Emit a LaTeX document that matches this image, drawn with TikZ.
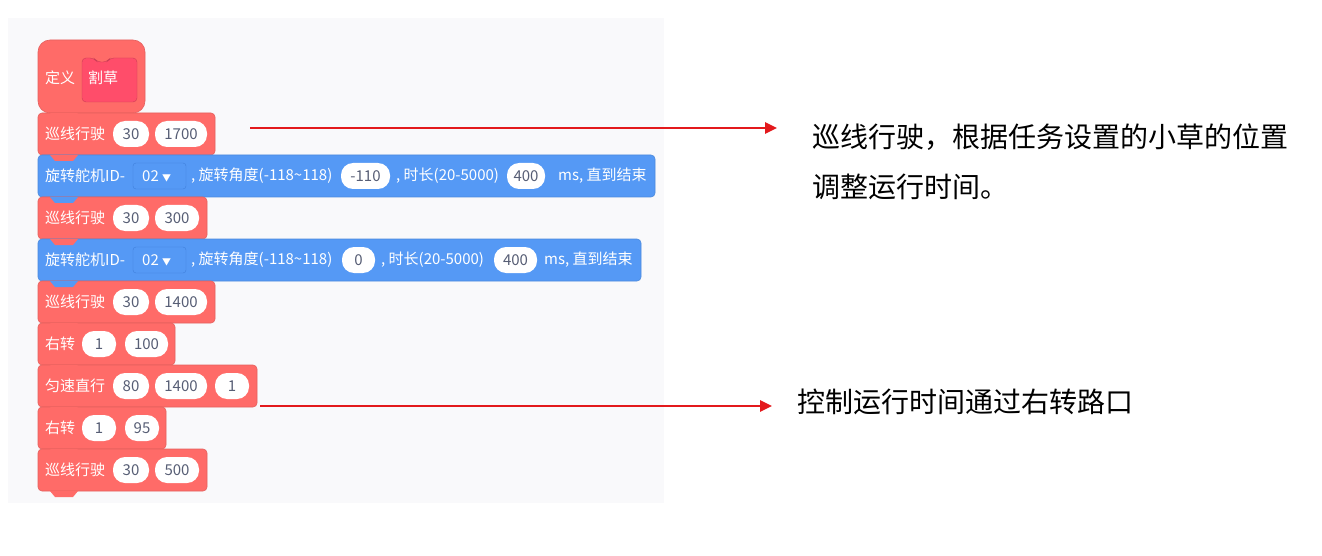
\documentclass[tikz,border=0pt]{standalone}
\usepackage{fontspec}
\setmainfont{Noto Sans CJK SC}
\usetikzlibrary{arrows.meta}
\definecolor{rb}{HTML}{FF6B68}
\definecolor{bb}{HTML}{5599F5}
\definecolor{bbd}{HTML}{3F80DC}
\definecolor{hat}{HTML}{FF4D6A}
\definecolor{bg}{HTML}{F9F9FB}
\definecolor{pt}{HTML}{575E75}
\definecolor{ar}{HTML}{E3191C}
\tikzset{
 blk/.style={rounded corners=4pt,draw=#1!90!black,fill=#1,line width=0.6pt},
 lab/.style={anchor=west,text=white,inner sep=0pt,font=\fontsize{15}{17}\selectfont},
 pill/.style={draw=none,fill=white,rounded corners=12pt,minimum height=26pt,inner sep=0pt,text=pt,font=\fontsize{15}{17}\selectfont},
 note/.style={anchor=west,inner sep=0pt,font=\fontsize{28}{32}\selectfont,text=black},
 arr/.style={draw=ar,line width=2.5pt,-{Triangle[length=12pt,width=11pt]}}
}
\newcommand{\tab}[2]{\fill[#2] (50,#1) -- (55,#1+6) -- (73,#1+6) -- (78,#1) -- cycle;}
\begin{document}
\begin{tikzpicture}[x=1pt,y=-1pt]
\useasboundingbox (0,0) rectangle (1322,556);
\fill[bg] (8,18) rectangle (664,503);
% hat
\path[blk=rb,rounded corners=12pt] (38,113) -- (38,40) -- (145,40) -- (145,113) -- cycle;
\draw[blk=rb] (38,113) rectangle (215,155);
\draw[fill=hat,draw=hat!80!black,rounded corners=4pt] (82,58) -- (94,58) -- (97,62) -- (107,62) -- (110,58) -- (137,58) -- (137,102) -- (82,102) -- cycle;
\node[lab] (def) at (45,78) {定义};
\node[lab] (ge) at (88,78) {割草};
% rows
\draw[blk=bb] (38,155) rectangle (655,197);
\tab{155}{rb}
\draw[blk=rb] (38,197) rectangle (207,239);
\tab{197}{bb}
\draw[blk=bb] (38,239) rectangle (641,281);
\tab{239}{rb}
\draw[blk=rb] (38,281) rectangle (215,323);
\tab{281}{bb}
\draw[blk=rb] (38,323) rectangle (175,365);
\tab{323}{rb}
\draw[blk=rb] (38,365) rectangle (257,407);
\tab{365}{rb}
\draw[blk=rb] (38,407) rectangle (166,449);
\tab{407}{rb}
\draw[blk=rb] (38,449) rectangle (207,491);
\tab{449}{rb}
\fill[rb] (50,491) -- (55,497) -- (73,497) -- (78,491) -- cycle;
\tab{113}{rb}
% row 1
\node[lab] (r1) at (45,134) {巡线行驶};
\node[pill,minimum width=36pt] (p1a) at (131,134) {30};
\node[pill,minimum width=52pt] (p1b) at (181,134) {1700};
% blue 1
\node[lab] (b1a) at (45,176) {旋转舵机ID-};
\draw[bbd,rounded corners=3pt] (133,163) rectangle (186,189);
\node[lab] (dd1) at (142,176) {02 \fontsize{9}{9}\selectfont▼};
\node[lab] (b1b) at (191,176) {, 旋转角度(-118\textasciitilde118)};
\node[pill,minimum width=49pt] (b1p) at (365.5,176) {-110};
\node[lab] (b1c) at (396,176) {, 时长(20-5000)};
\node[pill,minimum width=38pt] (b1q) at (526,176) {400};
\node[lab] (b1d) at (558,176) {ms, 直到结束};
% row 3
\node[lab] (r3) at (45,218) {巡线行驶};
\node[pill,minimum width=36pt] (p3a) at (131,218) {30};
\node[pill,minimum width=44pt] (p3b) at (177,218) {300};
% blue 2
\node[lab] (b2a) at (45,260) {旋转舵机ID-};
\draw[bbd,rounded corners=3pt] (133,247) rectangle (186,273);
\node[lab] (dd2) at (142,260) {02 \fontsize{9}{9}\selectfont▼};
\node[lab] (b2b) at (191,260) {, 旋转角度(-118\textasciitilde118)};
\node[pill,minimum width=33pt] (b2p) at (358.5,260) {0};
\node[lab] (b2c) at (381,260) {, 时长(20-5000)};
\node[pill,minimum width=43pt] (b2q) at (515.5,260) {400};
\node[lab] (b2d) at (544,260) {ms, 直到结束};
% row 5
\node[lab] (r5) at (45,302) {巡线行驶};
\node[pill,minimum width=36pt] (p5a) at (131,302) {30};
\node[pill,minimum width=52pt] (p5b) at (181,302) {1400};
% row 6
\node[lab] (r6) at (45,344) {右转};
\node[pill,minimum width=34pt] (p6a) at (99,344) {1};
\node[pill,minimum width=43pt] (p6b) at (146.5,344) {100};
% row 7
\node[lab] (r7) at (45,386) {匀速直行};
\node[pill,minimum width=36pt] (p7a) at (131,386) {80};
\node[pill,minimum width=52pt] (p7b) at (181,386) {1400};
\node[pill,minimum width=34pt] (p7c) at (232,386) {1};
% row 8
\node[lab] (r8) at (45,428) {右转};
\node[pill,minimum width=34pt] (p8a) at (99,428) {1};
\node[pill,minimum width=34pt] (p8b) at (142,428) {95};
% row 9
\node[lab] (r9) at (45,470) {巡线行驶};
\node[pill,minimum width=36pt] (p9a) at (131,470) {30};
\node[pill,minimum width=44pt] (p9b) at (177,470) {500};
% notes
\coordinate (s1) at (250,128);
\coordinate (e1) at (777,128);
\draw[arr] (s1) -- (e1);
\node[note] (n1) at (812,137) {巡线行驶，根据任务设置的小草的位置};
\node[note] (n2) at (812,187) {调整运行时间。};
\coordinate (s2) at (260,406);
\coordinate (e2) at (772,406);
\draw[arr] (s2) -- (e2);
\node[note] (n3) at (797,402) {控制运行时间通过右转路口};
\end{tikzpicture}
\end{document}
